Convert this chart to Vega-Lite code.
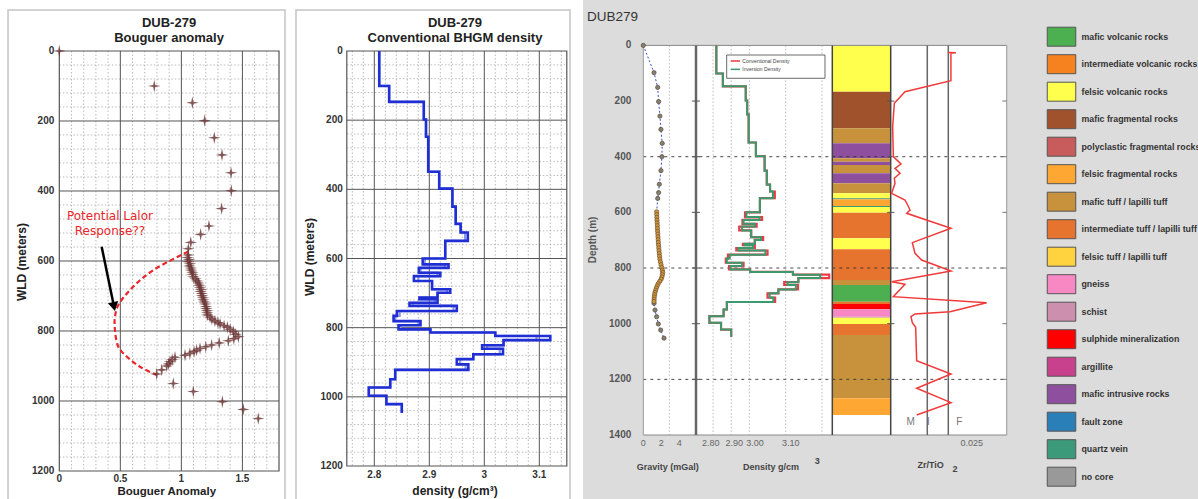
{
"$schema": "https://vega.github.io/schema/vega-lite/v6.json",
"width": 1198, "height": 499, "padding": 0, "autosize": {"type": "none"},
"background": "white",
"config": {"view": {"stroke": null}, "text": {"font": "Liberation Sans"}},
"datasets": {
"boug": [{"depth":0,"b":0},{"depth":100,"b":0.778},{"depth":148,"b":1.09},{"depth":199,"b":1.191},{"depth":248,"b":1.27},{"depth":297,"b":1.333},{"depth":348,"b":1.407},{"depth":399,"b":1.409},{"depth":450,"b":1.33},{"depth":500,"b":1.226},{"depth":524,"b":1.158},{"depth":547,"b":1.077},{"depth":565,"b":1.057},{"depth":583,"b":1.057},{"depth":590,"b":1.05},{"depth":596,"b":1.062},{"depth":602,"b":1.057},{"depth":608,"b":1.07},{"depth":614,"b":1.066},{"depth":620,"b":1.078},{"depth":626,"b":1.08},{"depth":632,"b":1.09},{"depth":638,"b":1.092},{"depth":645,"b":1.098},{"depth":651,"b":1.115},{"depth":657,"b":1.128},{"depth":663,"b":1.14},{"depth":669,"b":1.146},{"depth":675,"b":1.153},{"depth":681,"b":1.16},{"depth":687,"b":1.158},{"depth":693,"b":1.167},{"depth":699,"b":1.17},{"depth":705,"b":1.178},{"depth":711,"b":1.18},{"depth":717,"b":1.188},{"depth":723,"b":1.195},{"depth":730,"b":1.202},{"depth":736,"b":1.204},{"depth":742,"b":1.21},{"depth":748,"b":1.212},{"depth":754,"b":1.213},{"depth":760,"b":1.235},{"depth":766,"b":1.25},{"depth":771,"b":1.275},{"depth":776,"b":1.3},{"depth":780,"b":1.317},{"depth":785,"b":1.35},{"depth":789,"b":1.377},{"depth":795,"b":1.4},{"depth":802,"b":1.426},{"depth":809,"b":1.445},{"depth":816,"b":1.467},{"depth":822,"b":1.43},{"depth":828,"b":1.385},{"depth":834,"b":1.31},{"depth":840,"b":1.248},{"depth":845,"b":1.2},{"depth":850,"b":1.153},{"depth":855,"b":1.125},{"depth":859,"b":1.104},{"depth":864,"b":1.07},{"depth":869,"b":1.03},{"depth":875,"b":0.948},{"depth":882,"b":0.925},{"depth":888,"b":0.907},{"depth":894,"b":0.895},{"depth":900,"b":0.88},{"depth":911,"b":0.839},{"depth":923,"b":0.798},{"depth":950,"b":0.934},{"depth":973,"b":1.098},{"depth":1002,"b":1.336},{"depth":1024,"b":1.507},{"depth":1050,"b":1.63}],
"lalor": [{"depth":573,"b":1.057},{"depth":626,"b":0.77},{"depth":673,"b":0.606},{"depth":726,"b":0.484},{"depth":759,"b":0.456},{"depth":797,"b":0.456},{"depth":845,"b":0.484},{"depth":873,"b":0.552},{"depth":902,"b":0.661},{"depth":926,"b":0.798}],
"dens": [{"depth":0,"conv":2.809,"inv":2.809},{"depth":101,"conv":2.827,"inv":2.827},{"depth":147,"conv":2.89,"inv":2.89},{"depth":198,"conv":2.894,"inv":2.894},{"depth":248,"conv":2.898,"inv":2.898},{"depth":349,"conv":2.918,"inv":2.918},{"depth":398,"conv":2.942,"inv":2.942},{"depth":450,"conv":2.948,"inv":2.948},{"depth":500,"conv":2.957,"inv":2.957},{"depth":525,"conv":2.97,"inv":2.965},{"depth":549,"conv":2.929,"inv":2.929},{"depth":600,"conv":2.888,"inv":2.892},{"depth":617,"conv":2.935,"inv":2.928},{"depth":627,"conv":2.881,"inv":2.884},{"depth":641,"conv":2.92,"inv":2.915},{"depth":651,"conv":2.872,"inv":2.88},{"depth":665,"conv":2.905,"inv":2.905},{"depth":689,"conv":2.938,"inv":2.932},{"depth":699,"conv":2.915,"inv":2.915},{"depth":713,"conv":2.882,"inv":2.886},{"depth":718,"conv":2.915,"inv":2.91},{"depth":728,"conv":2.864,"inv":2.87},{"depth":737,"conv":2.95,"inv":2.944},{"depth":752,"conv":2.841,"inv":2.846},{"depth":766,"conv":2.835,"inv":2.838},{"depth":781,"conv":2.884,"inv":2.88},{"depth":793,"conv":2.844,"inv":2.848},{"depth":805,"conv":2.902,"inv":2.902},{"depth":814,"conv":3.02,"inv":3.02},{"depth":824,"conv":3.12,"inv":3.095},{"depth":836,"conv":3.035,"inv":3.035},{"depth":851,"conv":2.996,"inv":3.005},{"depth":861,"conv":3.034,"inv":3.028},{"depth":877,"conv":2.98,"inv":2.98},{"depth":891,"conv":2.95,"inv":2.956},{"depth":906,"conv":2.971,"inv":2.966},{"depth":922,"conv":2.838,"inv":2.838},{"depth":949,"conv":2.829,"inv":2.829},{"depth":973,"conv":2.79,"inv":2.79},{"depth":997,"conv":2.822,"inv":2.822},{"depth":1021,"conv":2.85,"inv":2.85},{"depth":1047,"conv":2.85,"inv":2.85}],
"grav": [{"depth":0,"g":0},{"depth":98,"g":1.19},{"depth":151,"g":1.6},{"depth":202,"g":1.7},{"depth":254,"g":1.85},{"depth":302,"g":1.96},{"depth":352,"g":2.1},{"depth":400,"g":2.07},{"depth":450,"g":1.96},{"depth":499,"g":1.78},{"depth":529,"g":1.7},{"depth":550,"g":1.6},{"depth":598,"g":1.48},{"depth":608,"g":1.5},{"depth":618,"g":1.51},{"depth":628,"g":1.52},{"depth":638,"g":1.54},{"depth":648,"g":1.56},{"depth":658,"g":1.57},{"depth":668,"g":1.59},{"depth":678,"g":1.61},{"depth":688,"g":1.63},{"depth":698,"g":1.65},{"depth":708,"g":1.67},{"depth":718,"g":1.7},{"depth":728,"g":1.72},{"depth":738,"g":1.75},{"depth":748,"g":1.78},{"depth":758,"g":1.81},{"depth":768,"g":1.84},{"depth":778,"g":1.9},{"depth":788,"g":1.97},{"depth":798,"g":2.05},{"depth":808,"g":2.12},{"depth":816,"g":2.15},{"depth":824,"g":2.12},{"depth":832,"g":2.07},{"depth":840,"g":1.98},{"depth":848,"g":1.82},{"depth":856,"g":1.66},{"depth":864,"g":1.55},{"depth":872,"g":1.45},{"depth":880,"g":1.37},{"depth":888,"g":1.3},{"depth":896,"g":1.25},{"depth":904,"g":1.22},{"depth":912,"g":1.2},{"depth":920,"g":1.19},{"depth":927,"g":1.19},{"depth":951,"g":1.3},{"depth":975,"g":1.48},{"depth":1001,"g":1.67},{"depth":1023,"g":1.93},{"depth":1052,"g":2.3}],
"lith": [{"top":0,"bottom":166.3,"rock":"felsic volcanic rocks"},{"top":166.3,"bottom":298,"rock":"mafic fragmental rocks"},{"top":298,"bottom":351.9,"rock":"mafic tuff / lapilli tuff"},{"top":351.9,"bottom":405.8,"rock":"mafic intrusive rocks"},{"top":405.8,"bottom":417.8,"rock":"mafic tuff / lapilli tuff"},{"top":417.8,"bottom":429.8,"rock":"mafic intrusive rocks"},{"top":429.8,"bottom":459.7,"rock":"mafic tuff / lapilli tuff"},{"top":459.7,"bottom":495.6,"rock":"mafic intrusive rocks"},{"top":495.6,"bottom":531.5,"rock":"mafic tuff / lapilli tuff"},{"top":531.5,"bottom":549.5,"rock":"felsic volcanic rocks"},{"top":549.5,"bottom":553,"rock":"quartz vein"},{"top":553,"bottom":577,"rock":"felsic fragmental rocks"},{"top":577,"bottom":581,"rock":"quartz vein"},{"top":581,"bottom":601,"rock":"felsic volcanic rocks"},{"top":601,"bottom":693.3,"rock":"intermediate tuff / lapilli tuff"},{"top":693.3,"bottom":732.8,"rock":"felsic volcanic rocks"},{"top":732.8,"bottom":843,"rock":"intermediate tuff / lapilli tuff"},{"top":843,"bottom":861,"rock":"mafic tuff / lapilli tuff"},{"top":861,"bottom":920.8,"rock":"mafic volcanic rocks"},{"top":920.8,"bottom":929.2,"rock":"intermediate tuff / lapilli tuff"},{"top":929.2,"bottom":948.4,"rock":"sulphide mineralization"},{"top":948.4,"bottom":974.7,"rock":"gneiss"},{"top":974.7,"bottom":979,"rock":"schist"},{"top":979,"bottom":1001,"rock":"felsic volcanic rocks"},{"top":1001,"bottom":1040.6,"rock":"intermediate tuff / lapilli tuff"},{"top":1040.6,"bottom":1268.2,"rock":"mafic tuff / lapilli tuff"},{"top":1268.2,"bottom":1328,"rock":"felsic fragmental rocks"}],
"zr": [{"depth":25.5,"zr":0.0183},{"depth":26,"zr":0.0209},{"depth":28.5,"zr":0.0193},{"depth":126.7,"zr":0.0193},{"depth":166.3,"zr":0.00458},{"depth":208.2,"zr":0.00116},{"depth":292,"zr":0.00063},{"depth":399.8,"zr":0.00084},{"depth":426.2,"zr":0.0033},{"depth":441.7,"zr":0.00138},{"depth":459.7,"zr":0.00298},{"depth":477.6,"zr":0.00116},{"depth":495.6,"zr":0.00138},{"depth":531.5,"zr":0.00031},{"depth":555.5,"zr":0.00458},{"depth":573.5,"zr":0.00544},{"depth":591.4,"zr":0.00619},{"depth":603.4,"zr":0.00512},{"depth":657.3,"zr":0.01933},{"depth":708.8,"zr":0.00693},{"depth":747.2,"zr":0.00779},{"depth":771.1,"zr":0.00993},{"depth":810.6,"zr":0.01933},{"depth":849,"zr":0.00031},{"depth":858.5,"zr":0.00458},{"depth":902.9,"zr":0.00084},{"depth":924.4,"zr":0.03076},{"depth":956.8,"zr":0.01901},{"depth":965.1,"zr":0.00779},{"depth":974.7,"zr":0.00651},{"depth":996.3,"zr":0.00693},{"depth":1013,"zr":0.008},{"depth":1132.8,"zr":0.00832},{"depth":1180.7,"zr":0.01933},{"depth":1232.2,"zr":0.00832},{"depth":1283.8,"zr":0.01933},{"depth":1328,"zr":0.00832}],
"g1vmin": [{"v":0.1},{"v":0.2},{"v":0.3},{"v":0.4},{"v":0.6},{"v":0.7},{"v":0.8},{"v":0.9},{"v":1.1},{"v":1.2},{"v":1.3},{"v":1.4},{"v":1.6},{"v":1.7}],
"g1vmaj": [{"v":0.5},{"v":1},{"v":1.5}],
"ghmin": [{"v":40},{"v":80},{"v":120},{"v":160},{"v":240},{"v":280},{"v":320},{"v":360},{"v":440},{"v":480},{"v":520},{"v":560},{"v":640},{"v":680},{"v":720},{"v":760},{"v":840},{"v":880},{"v":920},{"v":960},{"v":1040},{"v":1080},{"v":1120},{"v":1160}],
"ghmaj": [{"v":200},{"v":400},{"v":600},{"v":800},{"v":1000}],
"g2vmin": [{"v":2.76},{"v":2.78},{"v":2.82},{"v":2.84},{"v":2.86},{"v":2.88},{"v":2.92},{"v":2.94},{"v":2.96},{"v":2.98},{"v":3.02},{"v":3.04},{"v":3.06},{"v":3.08},{"v":3.12},{"v":3.14}],
"g2vmaj": [{"v":2.8},{"v":2.9},{"v":3.0},{"v":3.1}],
"p3grid": [{"v":2.8},{"v":2.85},{"v":2.9},{"v":3.0},{"v":3.1}],
"p3dash": [{"v":400},{"v":800},{"v":1200}],
"p3ticks": [{"v":200},{"v":400},{"v":600},{"v":800},{"v":1000},{"v":1200}],
"ylab12": [{"v":0},{"v":200},{"v":400},{"v":600},{"v":800},{"v":1000},{"v":1200}],
"ylab3": [{"v":0},{"v":200},{"v":400},{"v":600},{"v":800},{"v":1000},{"v":1200},{"v":1400}]
},
"resolve": {"scale": {"x": "independent", "y": "independent"}},
"layer": [
{"layer": [
 {"data":{"values":[{}]},"mark":{"type":"rect","filled":false,"color":"#c4c4c4","strokeWidth":1.5},"encoding":{"x":{"datum":-0.42,"scale":{"domain":[-0.48583,9.329],"nice":false,"zero":false},"axis":null},"x2":{"datum":1.849},"y":{"datum":-117,"scale":{"domain":[-145.714,1280],"reverse":true,"nice":false,"zero":false},"axis":null},"y2":{"datum":1320}}},
 {"data":{"name":"g1vmin"},"mark":{"type":"rule","color":"#a8a8a8","strokeWidth":0.8,"strokeDash":[1.5,2]},"encoding":{"x":{"field":"v","type":"quantitative","scale":{"domain":[-0.48583,9.329],"nice":false,"zero":false},"axis":null},"y":{"datum":0,"scale":{"domain":[-145.714,1280],"reverse":true,"nice":false,"zero":false},"axis":null},"y2":{"datum":1200}}},
 {"data":{"name":"ghmin"},"mark":{"type":"rule","color":"#a8a8a8","strokeWidth":0.8,"strokeDash":[1.5,2]},"encoding":{"y":{"field":"v","type":"quantitative","scale":{"domain":[-145.714,1280],"reverse":true,"nice":false,"zero":false},"axis":null},"x":{"datum":0,"scale":{"domain":[-0.48583,9.329],"nice":false,"zero":false},"axis":null},"x2":{"datum":1.8}}},
 {"data":{"name":"g1vmaj"},"mark":{"type":"rule","color":"#555","strokeWidth":1},"encoding":{"x":{"field":"v","type":"quantitative","scale":{"domain":[-0.48583,9.329],"nice":false,"zero":false},"axis":null},"y":{"datum":0,"scale":{"domain":[-145.714,1280],"reverse":true,"nice":false,"zero":false},"axis":null},"y2":{"datum":1200}}},
 {"data":{"name":"ghmaj"},"mark":{"type":"rule","color":"#555","strokeWidth":1},"encoding":{"y":{"field":"v","type":"quantitative","scale":{"domain":[-145.714,1280],"reverse":true,"nice":false,"zero":false},"axis":null},"x":{"datum":0,"scale":{"domain":[-0.48583,9.329],"nice":false,"zero":false},"axis":null},"x2":{"datum":1.8}}},
 {"data":{"values":[{}]},"mark":{"type":"rect","filled":false,"color":"#555","strokeWidth":1.2},"encoding":{"x":{"datum":0,"scale":{"domain":[-0.48583,9.329],"nice":false,"zero":false},"axis":null},"x2":{"datum":1.8},"y":{"datum":0,"scale":{"domain":[-145.714,1280],"reverse":true,"nice":false,"zero":false},"axis":null},"y2":{"datum":1200}}},
 {"data":{"name":"ylab12"},"mark":{"type":"text","align":"right","baseline":"middle","dx":-5,"fontSize":10,"fontWeight":"bold","color":"#333"},"encoding":{"x":{"datum":0,"scale":{"domain":[-0.48583,9.329],"nice":false,"zero":false},"axis":null},"y":{"field":"v","type":"quantitative","scale":{"domain":[-145.714,1280],"reverse":true,"nice":false,"zero":false},"axis":null},"text":{"field":"v","type":"quantitative","format":"d"}}},
 {"data":{"values":[{"v":0},{"v":0.5},{"v":1},{"v":1.5}]},"mark":{"type":"text","align":"center","baseline":"middle","dy":8.3,"fontSize":10,"fontWeight":"bold","color":"#333"},"encoding":{"x":{"field":"v","type":"quantitative","scale":{"domain":[-0.48583,9.329],"nice":false,"zero":false},"axis":null},"y":{"datum":1200,"scale":{"domain":[-145.714,1280],"reverse":true,"nice":false,"zero":false},"axis":null},"text":{"field":"v","type":"quantitative","format":"~g"}}},
 {"data":{"name":"lalor"},"mark":{"type":"line","color":"#e8262b","strokeWidth":2.2,"strokeDash":[5,3],"interpolate":"catmull-rom"},"encoding":{"x":{"field":"b","type":"quantitative","scale":{"domain":[-0.48583,9.329],"nice":false,"zero":false},"axis":null},"y":{"field":"depth","type":"quantitative","scale":{"domain":[-145.714,1280],"reverse":true,"nice":false,"zero":false},"axis":null},"order":{"field":"depth"}}},
 {"data":{"values":[{}]},"mark":{"type":"rule","color":"black","strokeWidth":2.5},"encoding":{"x":{"datum":0.347,"scale":{"domain":[-0.48583,9.329],"nice":false,"zero":false},"axis":null},"x2":{"datum":0.4481},"y":{"datum":559,"scale":{"domain":[-145.714,1280],"reverse":true,"nice":false,"zero":false},"axis":null},"y2":{"datum":730.3}}},
 {"data":{"values":[{}]},"mark":{"type":"point","shape":"triangle-down","filled":true,"color":"black","size":110,"angle":348.4,"opacity":1},"encoding":{"x":{"datum":0.4481,"scale":{"domain":[-0.48583,9.329],"nice":false,"zero":false},"axis":null},"y":{"datum":730.3,"scale":{"domain":[-145.714,1280],"reverse":true,"nice":false,"zero":false},"axis":null}}},
 {"data":{"name":"boug"},"mark":{"type":"point","shape":"M0,-1L0.17,-0.17L1,0L0.17,0.17L0,1L-0.17,0.17L-1,0L-0.17,-0.17Z","filled":true,"color":"#6e3a3a","size":160,"opacity":0.85},"encoding":{"x":{"field":"b","type":"quantitative","scale":{"domain":[-0.48583,9.329],"nice":false,"zero":false},"axis":null},"y":{"field":"depth","type":"quantitative","scale":{"domain":[-145.714,1280],"reverse":true,"nice":false,"zero":false},"axis":null}}},
 {"data":{"values":[{}]},"mark":{"type":"text","text":"Potential Lalor","font":"DejaVu Sans","fontSize":12,"color":"#e8262b","align":"center","baseline":"middle"},"encoding":{"x":{"datum":0.415,"scale":{"domain":[-0.48583,9.329],"nice":false,"zero":false},"axis":null},"y":{"datum":471,"scale":{"domain":[-145.714,1280],"reverse":true,"nice":false,"zero":false},"axis":null}}},
 {"data":{"values":[{}]},"mark":{"type":"text","text":"Response??","font":"DejaVu Sans","fontSize":12,"color":"#e8262b","align":"center","baseline":"middle"},"encoding":{"x":{"datum":0.415,"scale":{"domain":[-0.48583,9.329],"nice":false,"zero":false},"axis":null},"y":{"datum":514,"scale":{"domain":[-145.714,1280],"reverse":true,"nice":false,"zero":false},"axis":null}}},
 {"data":{"values":[{}]},"mark":{"type":"text","text":"DUB-279","fontSize":13,"fontWeight":"bold","color":"#222","align":"center","baseline":"middle"},"encoding":{"x":{"datum":0.899,"scale":{"domain":[-0.48583,9.329],"nice":false,"zero":false},"axis":null},"y":{"datum":-80,"scale":{"domain":[-145.714,1280],"reverse":true,"nice":false,"zero":false},"axis":null}}},
 {"data":{"values":[{}]},"mark":{"type":"text","text":"Bouguer anomaly","fontSize":13,"fontWeight":"bold","color":"#222","align":"center","baseline":"middle"},"encoding":{"x":{"datum":0.899,"scale":{"domain":[-0.48583,9.329],"nice":false,"zero":false},"axis":null},"y":{"datum":-37,"scale":{"domain":[-145.714,1280],"reverse":true,"nice":false,"zero":false},"axis":null}}},
 {"data":{"values":[{}]},"mark":{"type":"text","text":"Bouguer Anomaly","fontSize":11.5,"fontWeight":"bold","color":"#222","align":"center","baseline":"middle"},"encoding":{"x":{"datum":0.88,"scale":{"domain":[-0.48583,9.329],"nice":false,"zero":false},"axis":null},"y":{"datum":1259,"scale":{"domain":[-145.714,1280],"reverse":true,"nice":false,"zero":false},"axis":null}}},
 {"data":{"values":[{}]},"mark":{"type":"text","text":"WLD (meters)","fontSize":12,"fontWeight":"bold","color":"#222","align":"center","baseline":"middle","angle":270},"encoding":{"x":{"datum":-0.3056,"scale":{"domain":[-0.48583,9.329],"nice":false,"zero":false},"axis":null},"y":{"datum":603,"scale":{"domain":[-145.714,1280],"reverse":true,"nice":false,"zero":false},"axis":null}}}
]},
{"layer": [
 {"data":{"values":[{}]},"mark":{"type":"rect","filled":false,"color":"#c4c4c4","strokeWidth":1.5},"encoding":{"x":{"datum":2.6576,"scale":{"domain":[2.11945,4.29764],"nice":false,"zero":false},"axis":null},"x2":{"datum":3.1558},"y":{"datum":-118.6,"scale":{"domain":[-147.47,1295.42],"reverse":true,"nice":false,"zero":false},"axis":null},"y2":{"datum":1330}}},
 {"data":{"name":"g2vmin"},"mark":{"type":"rule","color":"#a8a8a8","strokeWidth":0.8,"strokeDash":[1.5,2]},"encoding":{"x":{"field":"v","type":"quantitative","scale":{"domain":[2.11945,4.29764],"nice":false,"zero":false},"axis":null},"y":{"datum":0,"scale":{"domain":[-147.47,1295.42],"reverse":true,"nice":false,"zero":false},"axis":null},"y2":{"datum":1200}}},
 {"data":{"name":"ghmin"},"mark":{"type":"rule","color":"#a8a8a8","strokeWidth":0.8,"strokeDash":[1.5,2]},"encoding":{"y":{"field":"v","type":"quantitative","scale":{"domain":[-147.47,1295.42],"reverse":true,"nice":false,"zero":false},"axis":null},"x":{"datum":2.75,"scale":{"domain":[2.11945,4.29764],"nice":false,"zero":false},"axis":null},"x2":{"datum":3.15}}},
 {"data":{"name":"g2vmaj"},"mark":{"type":"rule","color":"#555","strokeWidth":1},"encoding":{"x":{"field":"v","type":"quantitative","scale":{"domain":[2.11945,4.29764],"nice":false,"zero":false},"axis":null},"y":{"datum":0,"scale":{"domain":[-147.47,1295.42],"reverse":true,"nice":false,"zero":false},"axis":null},"y2":{"datum":1200}}},
 {"data":{"name":"ghmaj"},"mark":{"type":"rule","color":"#555","strokeWidth":1},"encoding":{"y":{"field":"v","type":"quantitative","scale":{"domain":[-147.47,1295.42],"reverse":true,"nice":false,"zero":false},"axis":null},"x":{"datum":2.75,"scale":{"domain":[2.11945,4.29764],"nice":false,"zero":false},"axis":null},"x2":{"datum":3.15}}},
 {"data":{"values":[{}]},"mark":{"type":"rect","filled":false,"color":"#555","strokeWidth":1.2},"encoding":{"x":{"datum":2.75,"scale":{"domain":[2.11945,4.29764],"nice":false,"zero":false},"axis":null},"x2":{"datum":3.15},"y":{"datum":0,"scale":{"domain":[-147.47,1295.42],"reverse":true,"nice":false,"zero":false},"axis":null},"y2":{"datum":1200}}},
 {"data":{"name":"ylab12"},"mark":{"type":"text","align":"right","baseline":"middle","dx":-4,"fontSize":10,"fontWeight":"bold","color":"#333"},"encoding":{"x":{"datum":2.75,"scale":{"domain":[2.11945,4.29764],"nice":false,"zero":false},"axis":null},"y":{"field":"v","type":"quantitative","scale":{"domain":[-147.47,1295.42],"reverse":true,"nice":false,"zero":false},"axis":null},"text":{"field":"v","type":"quantitative","format":"d"}}},
 {"data":{"name":"g2vmaj"},"mark":{"type":"text","align":"center","baseline":"middle","dy":9,"fontSize":10,"fontWeight":"bold","color":"#333"},"encoding":{"x":{"field":"v","type":"quantitative","scale":{"domain":[2.11945,4.29764],"nice":false,"zero":false},"axis":null},"y":{"datum":1200,"scale":{"domain":[-147.47,1295.42],"reverse":true,"nice":false,"zero":false},"axis":null},"text":{"field":"v","type":"quantitative","format":"~g"}}},
 {"data":{"name":"dens"},"mark":{"type":"line","color":"#8d97e4","strokeWidth":2.2,"interpolate":"step-before"},"encoding":{"x":{"field":"inv","type":"quantitative","scale":{"domain":[2.11945,4.29764],"nice":false,"zero":false},"axis":null},"y":{"field":"depth","type":"quantitative","scale":{"domain":[-147.47,1295.42],"reverse":true,"nice":false,"zero":false},"axis":null},"order":{"field":"depth"}}},
 {"data":{"name":"dens"},"mark":{"type":"line","color":"#1f2fd4","strokeWidth":2.6,"interpolate":"step-before"},"encoding":{"x":{"field":"conv","type":"quantitative","scale":{"domain":[2.11945,4.29764],"nice":false,"zero":false},"axis":null},"y":{"field":"depth","type":"quantitative","scale":{"domain":[-147.47,1295.42],"reverse":true,"nice":false,"zero":false},"axis":null},"order":{"field":"depth"}}},
 {"data":{"values":[{}]},"mark":{"type":"text","text":"DUB-279","fontSize":13,"fontWeight":"bold","color":"#222","align":"center","baseline":"middle"},"encoding":{"x":{"datum":2.9467,"scale":{"domain":[2.11945,4.29764],"nice":false,"zero":false},"axis":null},"y":{"datum":-81,"scale":{"domain":[-147.47,1295.42],"reverse":true,"nice":false,"zero":false},"axis":null}}},
 {"data":{"values":[{}]},"mark":{"type":"text","text":"Conventional BHGM density","fontSize":13,"fontWeight":"bold","color":"#222","align":"center","baseline":"middle"},"encoding":{"x":{"datum":2.9467,"scale":{"domain":[2.11945,4.29764],"nice":false,"zero":false},"axis":null},"y":{"datum":-37.6,"scale":{"domain":[-147.47,1295.42],"reverse":true,"nice":false,"zero":false},"axis":null}}},
 {"data":{"values":[{}]},"mark":{"type":"text","text":"density (g/cm³)","fontSize":12,"fontWeight":"bold","color":"#222","align":"center","baseline":"middle"},"encoding":{"x":{"datum":2.9467,"scale":{"domain":[2.11945,4.29764],"nice":false,"zero":false},"axis":null},"y":{"datum":1271.4,"scale":{"domain":[-147.47,1295.42],"reverse":true,"nice":false,"zero":false},"axis":null}}},
 {"data":{"values":[{}]},"mark":{"type":"text","text":"WLD (meters)","fontSize":12,"fontWeight":"bold","color":"#222","align":"center","baseline":"middle","angle":270},"encoding":{"x":{"datum":2.6831,"scale":{"domain":[2.11945,4.29764],"nice":false,"zero":false},"axis":null},"y":{"datum":595.7,"scale":{"domain":[-147.47,1295.42],"reverse":true,"nice":false,"zero":false},"axis":null}}}
]},
{"layer": [
 {"data":{"values":[{}]},"mark":{"type":"rect","color":"#dcdcdc"},"encoding":{"x":{"datum":-6.7,"scale":{"domain":[-71.478,61.633],"nice":false,"zero":false},"axis":null},"x2":{"datum":61.633},"y":{"datum":-163.14,"scale":{"domain":[-163.14,1629.97],"reverse":true,"nice":false,"zero":false},"axis":null},"y2":{"datum":1629.97}}},
 {"data":{"values":[{}]},"mark":{"type":"rect","color":"white"},"encoding":{"x":{"datum":0,"scale":{"domain":[-71.478,61.633],"nice":false,"zero":false},"axis":null},"x2":{"datum":40.378},"y":{"datum":0,"scale":{"domain":[-163.14,1629.97],"reverse":true,"nice":false,"zero":false},"axis":null},"y2":{"datum":1400}}},
 {"data":{"values":[{}]},"mark":{"type":"rule","color":"#aaa","strokeWidth":0.8,"strokeDash":[1.5,2]},"encoding":{"x":{"datum":2.9,"scale":{"domain":[-71.478,61.633],"nice":false,"zero":false},"axis":null},"y":{"datum":0,"scale":{"domain":[-163.14,1629.97],"reverse":true,"nice":false,"zero":false},"axis":null},"y2":{"datum":1400}}},
 {"data":{"name":"ylab3"},"mark":{"type":"text","align":"right","baseline":"middle","dx":-12,"fontSize":10,"fontWeight":"bold","color":"#555"},"encoding":{"x":{"datum":0,"scale":{"domain":[-71.478,61.633],"nice":false,"zero":false},"axis":null},"y":{"field":"v","type":"quantitative","scale":{"domain":[-163.14,1629.97],"reverse":true,"nice":false,"zero":false},"axis":null},"text":{"field":"v","type":"quantitative","format":"d"}}},
 {"data":{"values":[{"v":0},{"v":2},{"v":4}]},"mark":{"type":"text","align":"center","baseline":"middle","dy":7.5,"fontSize":9,"color":"#666"},"encoding":{"x":{"field":"v","type":"quantitative","scale":{"domain":[-71.478,61.633],"nice":false,"zero":false},"axis":null},"y":{"datum":1400,"scale":{"domain":[-163.14,1629.97],"reverse":true,"nice":false,"zero":false},"axis":null},"text":{"field":"v","type":"quantitative","format":"d"}}},
 {"data":{"values":[{}]},"mark":{"type":"text","text":"DUB279","fontSize":13.5,"color":"#333","align":"left","baseline":"middle"},"encoding":{"x":{"datum":-6.256,"scale":{"domain":[-71.478,61.633],"nice":false,"zero":false},"axis":null},"y":{"datum":-103.1,"scale":{"domain":[-163.14,1629.97],"reverse":true,"nice":false,"zero":false},"axis":null}}},
 {"data":{"values":[{}]},"mark":{"type":"text","text":"Depth (m)","fontSize":10,"fontWeight":"bold","color":"#555","align":"center","baseline":"middle","angle":270},"encoding":{"x":{"datum":-5.589,"scale":{"domain":[-71.478,61.633],"nice":false,"zero":false},"axis":null},"y":{"datum":699,"scale":{"domain":[-163.14,1629.97],"reverse":true,"nice":false,"zero":false},"axis":null}}},
 {"data":{"values":[{}]},"mark":{"type":"text","text":"Gravity (mGal)","fontSize":9,"fontWeight":"bold","color":"#444","align":"center","baseline":"middle"},"encoding":{"x":{"datum":2.722,"scale":{"domain":[-71.478,61.633],"nice":false,"zero":false},"axis":null},"y":{"datum":1513.9,"scale":{"domain":[-163.14,1629.97],"reverse":true,"nice":false,"zero":false},"axis":null}}}
]},
{"layer": [
 {"data":{"name":"lith"},"mark":{"type":"rect"},"encoding":{
   "x":{"datum":0,"scale":{"domain":[-14.2517,6.262],"nice":false,"zero":false},"axis":null},
   "x2":{"datum":1},
   "y":{"field":"top","type":"quantitative","scale":{"domain":[-163.14,1629.97],"reverse":true,"nice":false,"zero":false},"axis":null},
   "y2":{"field":"bottom"},
   "color":{"field":"rock","type":"nominal",
     "scale":{"domain":["mafic volcanic rocks","intermediate volcanic rocks","felsic volcanic rocks","mafic fragmental rocks","polyclastic fragmental rocks","felsic fragmental rocks","mafic tuff / lapilli tuff","intermediate tuff / lapilli tuff","felsic tuff / lapilli tuff","gneiss","schist","sulphide mineralization","argillite","mafic intrusive rocks","fault zone","quartz vein","no core"],
       "range":["#4caf50","#f5821f","#ffff4d","#a0522d","#c85c5c","#ffa733","#c8923c","#e6732e","#ffd23f","#f788c4","#cc8fae","#ff0000","#c8418c","#8e4f9f","#2b7fb8","#3a9a7a","#999999"]},
     "legend":{"orient":"none","legendX":1051.5,"legendY":26.7,"title":null,"symbolType":"M-1.5,-1H1.5V1H-1.5Z","symbolSize":361,"symbolStrokeColor":"#555","symbolStrokeWidth":1,"symbolOpacity":1,"labelFont":"Liberation Sans","labelFontSize":8.8,"labelFontWeight":"bold","labelColor":"#333","labelOffset":10,"rowPadding":3.5,"labelLimit":300,"padding":0,"zindex":1}}}}
]},
{"layer": [
 {"data":{"name":"p3dash"},"mark":{"type":"rule","color":"#333","strokeWidth":0.9,"strokeDash":[3,4]},"encoding":{"y":{"field":"v","type":"quantitative","scale":{"domain":[-163.14,1629.97],"reverse":true,"nice":false,"zero":false},"axis":null},"x":{"datum":0,"scale":{"domain":[-71.478,61.633],"nice":false,"zero":false},"axis":null},"x2":{"datum":40.378}}},
 {"data":{"values":[{"d":0},{"d":1400}]},"mark":{"type":"rule","color":"#888","strokeWidth":1},"encoding":{"y":{"field":"d","type":"quantitative","scale":{"domain":[-163.14,1629.97],"reverse":true,"nice":false,"zero":false},"axis":null},"x":{"datum":0,"scale":{"domain":[-71.478,61.633],"nice":false,"zero":false},"axis":null},"x2":{"datum":40.378}}},
 {"data":{"values":[{"g":0},{"g":40.378}]},"mark":{"type":"rule","color":"#999","strokeWidth":1},"encoding":{"x":{"field":"g","type":"quantitative","scale":{"domain":[-71.478,61.633],"nice":false,"zero":false},"axis":null},"y":{"datum":0,"scale":{"domain":[-163.14,1629.97],"reverse":true,"nice":false,"zero":false},"axis":null},"y2":{"datum":1400}}},
 {"data":{"values":[{}]},"mark":{"type":"rule","color":"#666","strokeWidth":2.5},"encoding":{"x":{"datum":5.856,"scale":{"domain":[-71.478,61.633],"nice":false,"zero":false},"axis":null},"y":{"datum":0,"scale":{"domain":[-163.14,1629.97],"reverse":true,"nice":false,"zero":false},"axis":null},"y2":{"datum":1400}}},
 {"data":{"values":[{"g":21.0},{"g":27.489}]},"mark":{"type":"rule","color":"#444","strokeWidth":1.5},"encoding":{"x":{"field":"g","type":"quantitative","scale":{"domain":[-71.478,61.633],"nice":false,"zero":false},"axis":null},"y":{"datum":0,"scale":{"domain":[-163.14,1629.97],"reverse":true,"nice":false,"zero":false},"axis":null},"y2":{"datum":1400}}},
 {"data":{"name":"p3ticks"},"mark":{"type":"rule","color":"#555","strokeWidth":1},"encoding":{"y":{"field":"v","type":"quantitative","scale":{"domain":[-163.14,1629.97],"reverse":true,"nice":false,"zero":false},"axis":null},"x":{"datum":5.4,"scale":{"domain":[-71.478,61.633],"nice":false,"zero":false},"axis":null},"x2":{"datum":6.3}}},
 {"data":{"name":"p3ticks"},"mark":{"type":"rule","color":"#555","strokeWidth":1},"encoding":{"y":{"field":"v","type":"quantitative","scale":{"domain":[-163.14,1629.97],"reverse":true,"nice":false,"zero":false},"axis":null},"x":{"datum":27.1,"scale":{"domain":[-71.478,61.633],"nice":false,"zero":false},"axis":null},"x2":{"datum":27.9}}},
 {"data":{"name":"p3ticks"},"mark":{"type":"rule","color":"#777","strokeWidth":1},"encoding":{"y":{"field":"v","type":"quantitative","scale":{"domain":[-163.14,1629.97],"reverse":true,"nice":false,"zero":false},"axis":null},"x":{"datum":39.9,"scale":{"domain":[-71.478,61.633],"nice":false,"zero":false},"axis":null},"x2":{"datum":40.378}}},
 {"data":{"name":"grav"},"mark":{"type":"line","color":"#3a50c8","strokeWidth":1,"strokeDash":[2,2]},"encoding":{"x":{"field":"g","type":"quantitative","scale":{"domain":[-71.478,61.633],"nice":false,"zero":false},"axis":null},"y":{"field":"depth","type":"quantitative","scale":{"domain":[-163.14,1629.97],"reverse":true,"nice":false,"zero":false},"axis":null},"order":{"field":"depth"}}},
 {"data":{"name":"grav"},"transform":[{"filter":"datum.depth < 590 || datum.depth > 922"}],"mark":{"type":"point","filled":true,"fill":"#8a8070","stroke":"#4f463c","strokeWidth":0.7,"size":18,"opacity":1},"encoding":{"x":{"field":"g","type":"quantitative","scale":{"domain":[-71.478,61.633],"nice":false,"zero":false},"axis":null},"y":{"field":"depth","type":"quantitative","scale":{"domain":[-163.14,1629.97],"reverse":true,"nice":false,"zero":false},"axis":null}}},
 {"data":{"name":"grav"},"transform":[{"filter":"datum.depth >= 590 && datum.depth <= 922"}],"mark":{"type":"point","filled":true,"fill":"#d1933a","stroke":"#6b5232","strokeWidth":0.7,"size":18,"opacity":1},"encoding":{"x":{"field":"g","type":"quantitative","scale":{"domain":[-71.478,61.633],"nice":false,"zero":false},"axis":null},"y":{"field":"depth","type":"quantitative","scale":{"domain":[-163.14,1629.97],"reverse":true,"nice":false,"zero":false},"axis":null}}}
]},
{"layer": [
 {"data":{"name":"p3grid"},"mark":{"type":"rule","color":"#aaa","strokeWidth":0.8,"strokeDash":[1.5,2]},"encoding":{"x":{"field":"v","type":"quantitative","scale":{"domain":[0.83562,4.1359],"nice":false,"zero":false},"axis":null},"y":{"datum":0,"scale":{"domain":[-163.14,1629.97],"reverse":true,"nice":false,"zero":false},"axis":null},"y2":{"datum":1400}}},
 {"data":{"values":[{"pos":2.7935,"lab":"2.80"},{"pos":2.8585,"lab":"2.90"},{"pos":2.9155,"lab":"3.00"},{"pos":3.0139,"lab":"3.10"}]},"mark":{"type":"text","align":"center","baseline":"middle","dy":7.5,"fontSize":9,"color":"#666"},"encoding":{"x":{"field":"pos","type":"quantitative","scale":{"domain":[0.83562,4.1359],"nice":false,"zero":false},"axis":null},"y":{"datum":1400,"scale":{"domain":[-163.14,1629.97],"reverse":true,"nice":false,"zero":false},"axis":null},"text":{"field":"lab"}}},
 {"data":{"name":"dens"},"mark":{"type":"line","color":"#ea3a44","strokeWidth":2.2,"interpolate":"step-before"},"encoding":{"x":{"field":"conv","type":"quantitative","scale":{"domain":[0.83562,4.1359],"nice":false,"zero":false},"axis":null},"y":{"field":"depth","type":"quantitative","scale":{"domain":[-163.14,1629.97],"reverse":true,"nice":false,"zero":false},"axis":null},"order":{"field":"depth"}}},
 {"data":{"name":"dens"},"mark":{"type":"line","color":"#3a9a6e","strokeWidth":2,"interpolate":"step-before"},"encoding":{"x":{"field":"inv","type":"quantitative","scale":{"domain":[0.83562,4.1359],"nice":false,"zero":false},"axis":null},"y":{"field":"depth","type":"quantitative","scale":{"domain":[-163.14,1629.97],"reverse":true,"nice":false,"zero":false},"axis":null},"order":{"field":"depth"}}},
 {"data":{"values":[{}]},"mark":{"type":"rect","fill":"white","stroke":"#444","strokeWidth":0.8},"encoding":{"x":{"datum":2.8375,"scale":{"domain":[0.83562,4.1359],"nice":false,"zero":false},"axis":null},"x2":{"datum":3.1083},"y":{"datum":34.5,"scale":{"domain":[-163.14,1629.97],"reverse":true,"nice":false,"zero":false},"axis":null},"y2":{"datum":118.2}}},
 {"data":{"values":[{}]},"mark":{"type":"rule","color":"#ea3a44","strokeWidth":1.5},"encoding":{"x":{"datum":2.8486,"scale":{"domain":[0.83562,4.1359],"nice":false,"zero":false},"axis":null},"x2":{"datum":2.8742},"y":{"datum":56,"scale":{"domain":[-163.14,1629.97],"reverse":true,"nice":false,"zero":false},"axis":null}}},
 {"data":{"values":[{}]},"mark":{"type":"rule","color":"#3a9a6e","strokeWidth":1.5},"encoding":{"x":{"datum":2.8486,"scale":{"domain":[0.83562,4.1359],"nice":false,"zero":false},"axis":null},"x2":{"datum":2.8742},"y":{"datum":86,"scale":{"domain":[-163.14,1629.97],"reverse":true,"nice":false,"zero":false},"axis":null}}},
 {"data":{"values":[{}]},"mark":{"type":"text","text":"Conventional Density","fontSize":5,"color":"#444","align":"left","baseline":"middle"},"encoding":{"x":{"datum":2.8805,"scale":{"domain":[0.83562,4.1359],"nice":false,"zero":false},"axis":null},"y":{"datum":56,"scale":{"domain":[-163.14,1629.97],"reverse":true,"nice":false,"zero":false},"axis":null}}},
 {"data":{"values":[{}]},"mark":{"type":"text","text":"Inversion Density","fontSize":5,"color":"#444","align":"left","baseline":"middle"},"encoding":{"x":{"datum":2.8805,"scale":{"domain":[0.83562,4.1359],"nice":false,"zero":false},"axis":null},"y":{"datum":86,"scale":{"domain":[-163.14,1629.97],"reverse":true,"nice":false,"zero":false},"axis":null}}},
 {"data":{"values":[{}]},"mark":{"type":"text","text":"Density g/cm","fontSize":9,"fontWeight":"bold","color":"#444","align":"center","baseline":"middle"},"encoding":{"x":{"datum":2.9596,"scale":{"domain":[0.83562,4.1359],"nice":false,"zero":false},"axis":null},"y":{"datum":1513.9,"scale":{"domain":[-163.14,1629.97],"reverse":true,"nice":false,"zero":false},"axis":null}}},
 {"data":{"values":[{}]},"mark":{"type":"text","text":"3","fontSize":9,"fontWeight":"bold","color":"#444","align":"center","baseline":"middle"},"encoding":{"x":{"datum":3.0871,"scale":{"domain":[0.83562,4.1359],"nice":false,"zero":false},"axis":null},"y":{"datum":1493.4,"scale":{"domain":[-163.14,1629.97],"reverse":true,"nice":false,"zero":false},"axis":null}}}
]},
{"layer": [
 {"data":{"values":[{"z":0.01173},{"z":0.01846}]},"mark":{"type":"rule","color":"#666","strokeWidth":1.5},"encoding":{"x":{"field":"z","type":"quantitative","scale":{"domain":[-0.285481,0.098494],"nice":false,"zero":false},"axis":null},"y":{"datum":0,"scale":{"domain":[-163.14,1629.97],"reverse":true,"nice":false,"zero":false},"axis":null},"y2":{"datum":1400}}},
 {"data":{"values":[{"v":0.025}]},"mark":{"type":"text","align":"center","baseline":"middle","dy":7.5,"dx":3,"fontSize":9,"color":"#666"},"encoding":{"x":{"field":"v","type":"quantitative","scale":{"domain":[-0.285481,0.098494],"nice":false,"zero":false},"axis":null},"y":{"datum":1400,"scale":{"domain":[-163.14,1629.97],"reverse":true,"nice":false,"zero":false},"axis":null},"text":{"field":"v","type":"quantitative","format":".3f"}}},
 {"data":{"name":"zr"},"mark":{"type":"line","color":"#f03a3a","strokeWidth":1.5},"encoding":{"x":{"field":"zr","type":"quantitative","scale":{"domain":[-0.285481,0.098494],"nice":false,"zero":false},"axis":null},"y":{"field":"depth","type":"quantitative","scale":{"domain":[-163.14,1629.97],"reverse":true,"nice":false,"zero":false},"axis":null},"order":{"field":"depth"}}},
 {"data":{"values":[{"t":"M","z":0.00641},{"t":"I","z":0.01205},{"t":"F","z":0.02199}]},"mark":{"type":"text","fontSize":10,"color":"#777","align":"center","baseline":"middle"},"encoding":{"x":{"field":"z","type":"quantitative","scale":{"domain":[-0.285481,0.098494],"nice":false,"zero":false},"axis":null},"y":{"datum":1352.2,"scale":{"domain":[-163.14,1629.97],"reverse":true,"nice":false,"zero":false},"axis":null},"text":{"field":"t"}}},
 {"data":{"values":[{}]},"mark":{"type":"text","text":"Zr/TiO","fontSize":9,"fontWeight":"bold","color":"#444","align":"center","baseline":"middle"},"encoding":{"x":{"datum":0.01282,"scale":{"domain":[-0.285481,0.098494],"nice":false,"zero":false},"axis":null},"y":{"datum":1507.8,"scale":{"domain":[-163.14,1629.97],"reverse":true,"nice":false,"zero":false},"axis":null}}},
 {"data":{"values":[{}]},"mark":{"type":"text","text":"2","fontSize":9,"fontWeight":"bold","color":"#444","align":"center","baseline":"middle"},"encoding":{"x":{"datum":0.02061,"scale":{"domain":[-0.285481,0.098494],"nice":false,"zero":false},"axis":null},"y":{"datum":1523.3,"scale":{"domain":[-163.14,1629.97],"reverse":true,"nice":false,"zero":false},"axis":null}}}
]}
]
}
